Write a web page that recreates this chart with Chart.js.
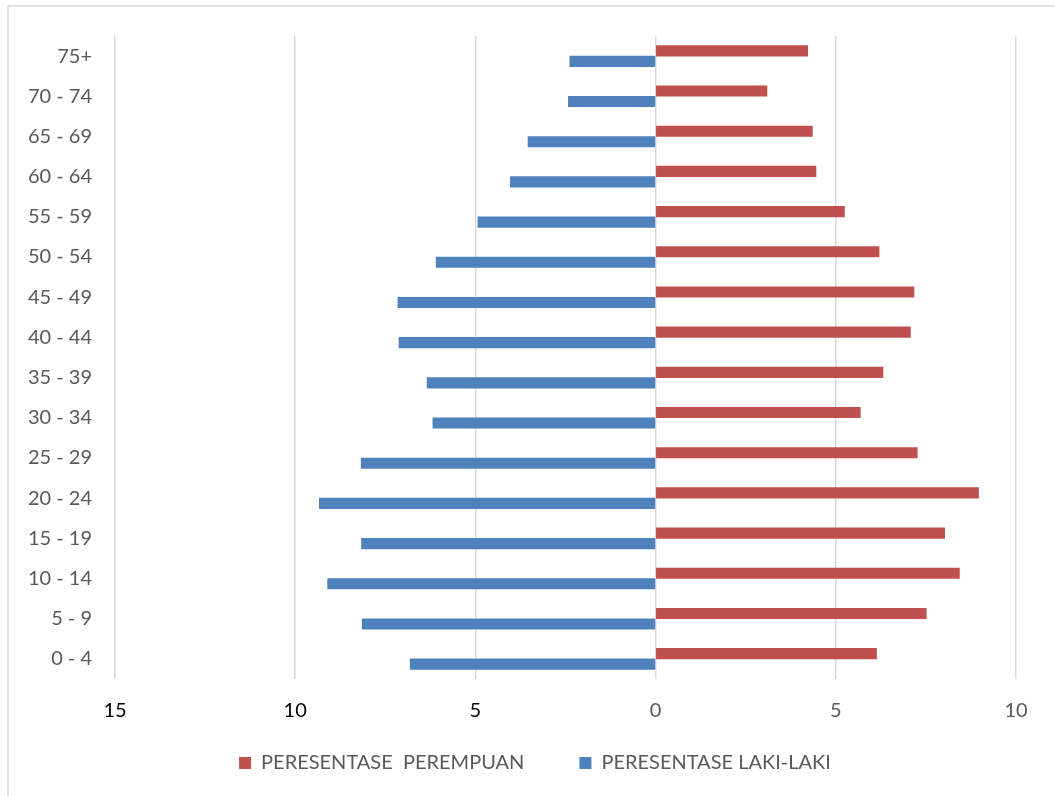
<!DOCTYPE html>
<html>
<head>
<meta charset="utf-8">
<title>Piramida Penduduk</title>
<script src="https://cdn.jsdelivr.net/npm/chart.js@4/dist/chart.umd.min.js"></script>
<style>
  html, body { margin: 0; padding: 0; background: #ffffff; }
  #wrap { position: relative; width: 1055px; height: 796px; }
  canvas { display: block; }
</style>
</head>
<body>
<div id="wrap"><canvas id="pyramid" width="1055" height="796"></canvas></div>
<script>
// Age groups, oldest at the top
const ageGroups = ['75+', '70 - 74', '65 - 69', '60 - 64', '55 - 59', '50 - 54', '45 - 49',
  '40 - 44', '35 - 39', '30 - 34', '25 - 29', '20 - 24', '15 - 19', '10 - 14', '5 - 9', '0 - 4'];

// Percentage of women per age group
const perempuan = [4.22, 3.09, 4.35, 4.45, 5.24, 6.20, 7.17, 7.07, 6.31, 5.68, 7.26, 8.96, 8.02, 8.43, 7.51, 6.13];

// Percentage of men per age group (plotted to the left of zero)
const lakiLaki = [2.38, 2.42, 3.54, 4.03, 4.93, 6.09, 7.15, 7.12, 6.34, 6.18, 8.17, 9.33, 8.16, 9.10, 8.14, 6.81];

// Horizontal axis ticks
const xTicks = [-15, -10, -5, 0, 5, 10];

const seriesNames = ['PERESENTASE  PEREMPUAN', 'PERESENTASE LAKI-LAKI'];

const FONT = 'Lato, "Open Sans", "DejaVu Sans", sans-serif';

// Thin frame around the whole chart
const framePlugin = {
  id: 'frame',
  beforeDraw(chart) {
    const ctx = chart.ctx;
    ctx.save();
    ctx.fillStyle = '#ffffff';
    ctx.fillRect(0, 0, chart.width, chart.height);
    ctx.strokeStyle = '#d9d9d9';
    ctx.lineWidth = 1.5;
    ctx.strokeRect(8, 6, chart.width + 20, chart.height + 20);
    ctx.restore();
  }
};

new Chart(document.getElementById('pyramid'), {
  type: 'bar',
  data: {
    labels: ageGroups,
    datasets: [
      {
        label: seriesNames[0],
        data: perempuan,
        backgroundColor: '#C0504D',
        borderWidth: 0,
        barThickness: 10.5
      },
      {
        label: seriesNames[1],
        data: lakiLaki.map(v => -v),
        backgroundColor: '#4F81BD',
        borderWidth: 0,
        barThickness: 10.5
      }
    ]
  },
  options: {
    indexAxis: 'y',
    responsive: false,
    animation: false,
    layout: { padding: { left: 15, right: 0, top: 36, bottom: 13 } },
    scales: {
      x: {
        min: -15,
        max: 10,
        afterBuildTicks(scale) {
          scale.ticks = xTicks.map(v => ({ value: v }));
        },
        afterFit(scale) { scale.height = 19; },
        grid: {
          color: '#d9d9d9',
          lineWidth: 1.5,
          drawTicks: false
        },
        border: { display: false },
        ticks: {
          mirror: true,
          padding: -44,
          font: { family: FONT, size: 20 },
          color: ctx => (ctx.tick && ctx.tick.value < 0 ? '#000000' : '#595959'),
          callback: v => String(Math.abs(v))
        }
      },
      y: {
        afterFit(scale) { scale.width = 100; },
        grid: { display: false, drawTicks: false },
        border: { display: false },
        ticks: {
          padding: 23,
          font: { family: FONT, size: 20 },
          color: '#595959'
        }
      },
      // empty right-hand axis that reserves the margin right of the plot
      y2: {
        type: 'category',
        position: 'right',
        afterFit(scale) { scale.width = 39; },
        grid: { display: false, drawTicks: false },
        border: { display: false },
        ticks: { display: false }
      }
    },
    plugins: {
      legend: {
        position: 'bottom',
        labels: {
          boxWidth: 12,
          boxHeight: 12,
          padding: 55,
          color: '#595959',
          font: { family: FONT, size: 20 }
        }
      },
      tooltip: { enabled: false }
    }
  },
  plugins: [framePlugin]
});
</script>
</body>
</html>
